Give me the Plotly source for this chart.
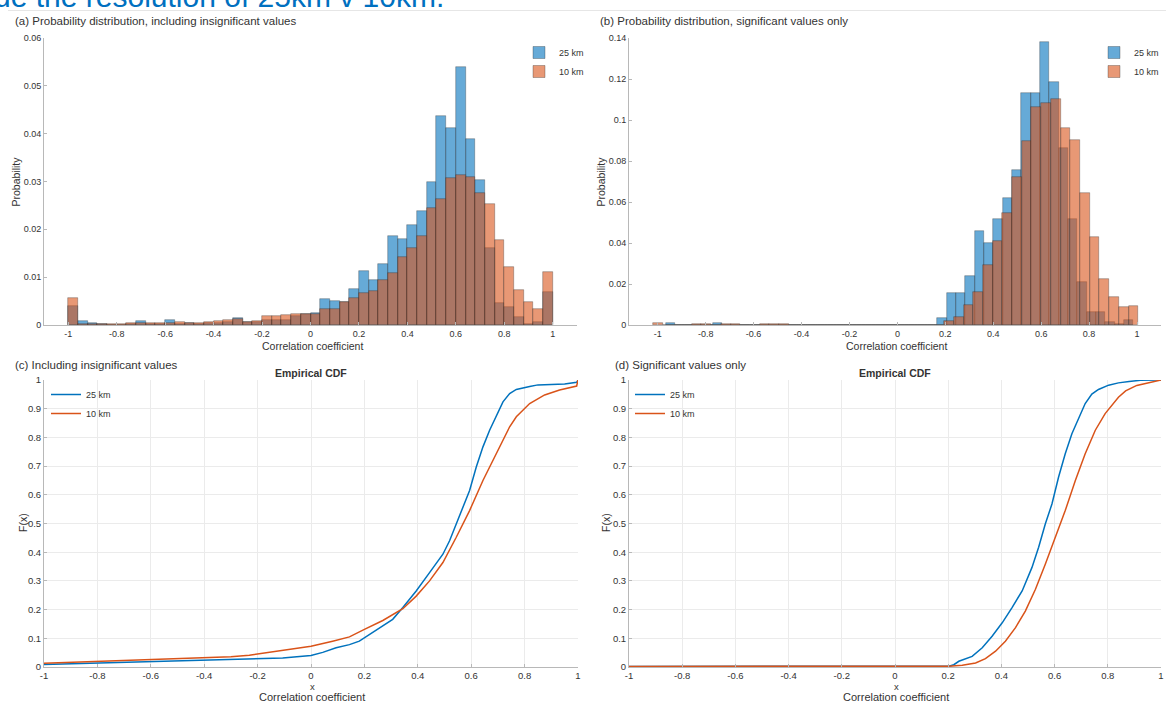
import numpy as np
import plotly.graph_objects as go

# ---------------- data ----------------
# (a) histogram, including insignificant values: 50 bins of width 0.04 starting at -1
bin_start_a = -1.0
bin_width_a = 0.04
hist_a_25km = [0.0039, 0.0008, 0.0005, 0.0002, 0.0001, 0.0001, 0.0003, 0.0008, 0.0003, 0.0003,
               0.0011, 0.0003, 0.0004, 0.0003, 0.0005, 0.0005, 0.0006, 0.0014, 0.0006, 0.0006,
               0.0010, 0.0010, 0.0010, 0.0019, 0.0022, 0.0026, 0.0054, 0.0050, 0.0048, 0.0075,
               0.0113, 0.0094, 0.0127, 0.0186, 0.0180, 0.0210, 0.0238, 0.0300, 0.0436, 0.0411,
               0.0539, 0.0388, 0.0303, 0.0162, 0.0047, 0.0038, 0.0017, 0.0003, 0.0006, 0.0068]
hist_a_10km = [0.0056, 0.0003, 0.0003, 0.0003, 0.0002, 0.0002, 0.0005, 0.0005, 0.0004, 0.0004,
               0.0005, 0.0006, 0.0004, 0.0004, 0.0006, 0.0008, 0.0011, 0.0012, 0.0007, 0.0008,
               0.0018, 0.0019, 0.0021, 0.0024, 0.0023, 0.0023, 0.0033, 0.0033, 0.0049, 0.0056,
               0.0066, 0.0071, 0.0095, 0.0109, 0.0143, 0.0162, 0.0187, 0.0245, 0.0263, 0.0307,
               0.0313, 0.0309, 0.0275, 0.0252, 0.0178, 0.0122, 0.0073, 0.0049, 0.0033, 0.0111]

# (b) histogram, significant values only (each series has its own automatic bins)
bin_start_b_25km = -0.965
bin_width_b_25km = 0.039
hist_b_25km = [0.0008, 0, 0, 0, 0, 0.0008, 0, 0, 0, 0,
               0, 0, 0, 0, 0, 0, 0, 0, 0, 0,
               0, 0, 0, 0, 0, 0, 0, 0, 0, 0.0033,
               0.0158, 0.0158, 0.0241, 0.0460, 0.0400, 0.0519, 0.0621, 0.0756, 0.1132, 0.1132,
               0.1380, 0.1184, 0.0863, 0.0517, 0.0208, 0.0065, 0.0065, 0.0016, 0.0005, 0.0026]
bin_start_b_10km = -1.02
bin_width_b_10km = 0.0405
hist_b_10km = [0.0011, 0, 0, 0, 0.0004, 0.0004, 0, 0.0004, 0.0004, 0,
               0, 0.0005, 0.0004, 0.0003, 0, 0, 0, 0, 0, 0,
               0, 0, 0, 0, 0, 0, 0, 0, 0, 0,
               0.0020, 0.0037, 0.0099, 0.0163, 0.0293, 0.0408, 0.0546, 0.0724, 0.0896, 0.1062,
               0.1083, 0.1102, 0.0961, 0.0902, 0.0644, 0.0428, 0.0224, 0.0135, 0.0089, 0.0091]

# (c) empirical CDF, including insignificant values
cdf_c_25km_x = [-1.0, -0.8, -0.6, -0.4, -0.3, -0.231, -0.106, 0.0, 0.044, 0.094, 0.144, 0.181,
                0.219, 0.269, 0.306, 0.344, 0.394, 0.444, 0.494, 0.519, 0.544, 0.569, 0.594,
                0.619, 0.644, 0.669, 0.694, 0.719, 0.744, 0.769, 0.819, 0.85, 0.9, 0.95, 0.995, 1.0]
cdf_c_25km_y = [0.009, 0.014, 0.019, 0.023, 0.024, 0.026, 0.031, 0.040, 0.051, 0.067, 0.078, 0.090,
                0.113, 0.142, 0.166, 0.207, 0.265, 0.329, 0.393, 0.440, 0.498, 0.557, 0.615,
                0.697, 0.767, 0.825, 0.872, 0.924, 0.953, 0.967, 0.977, 0.983, 0.984, 0.986, 0.992, 1.0]
cdf_c_10km_x = [-1.0, -0.8, -0.6, -0.4, -0.3, -0.231, -0.106, 0.0, 0.081, 0.144, 0.2, 0.269, 0.344,
                0.394, 0.444, 0.494, 0.544, 0.594, 0.644, 0.694, 0.744, 0.769, 0.819, 0.875,
                0.931, 0.995, 1.0]
cdf_c_10km_y = [0.013, 0.019, 0.025, 0.031, 0.036, 0.041, 0.057, 0.072, 0.090, 0.105, 0.131, 0.162,
                0.203, 0.247, 0.300, 0.364, 0.452, 0.545, 0.650, 0.743, 0.837, 0.872, 0.918,
                0.948, 0.965, 0.979, 1.0]

# (d) empirical CDF, significant values only
cdf_d_25km_x = [-1.0, 0.203, 0.221, 0.24, 0.29, 0.328, 0.365, 0.403, 0.44, 0.478, 0.515, 0.54,
                0.565, 0.59, 0.615, 0.64, 0.665, 0.69, 0.715, 0.74, 0.765, 0.803, 0.84, 0.88,
                0.923, 0.979, 1.0]
cdf_d_25km_y = [0.002, 0.003, 0.008, 0.02, 0.037, 0.067, 0.107, 0.154, 0.207, 0.265, 0.347, 0.417,
                0.498, 0.568, 0.662, 0.743, 0.813, 0.866, 0.918, 0.951, 0.967, 0.982, 0.990, 0.995,
                0.999, 1.0, 1.0]
cdf_d_10km_x = [-1.0, 0.203, 0.253, 0.303, 0.34, 0.378, 0.415, 0.453, 0.49, 0.528, 0.565, 0.603,
                0.64, 0.678, 0.715, 0.753, 0.79, 0.84, 0.867, 0.909, 0.951, 1.0]
cdf_d_10km_y = [0.002, 0.003, 0.006, 0.014, 0.029, 0.055, 0.090, 0.137, 0.195, 0.271, 0.358, 0.452,
                0.545, 0.650, 0.743, 0.825, 0.883, 0.94, 0.962, 0.981, 0.991, 1.0]

series_names = ["25 km", "10 km"]

hist_xticks = [-1, -0.8, -0.6, -0.4, -0.2, 0, 0.2, 0.4, 0.6, 0.8, 1]
hist_xticktext = ["-1", "-0.8", "-0.6", "-0.4", "-0.2", "0", "0.2", "0.4", "0.6", "0.8", "1"]
hist_a_yticks = [0, 0.01, 0.02, 0.03, 0.04, 0.05, 0.06]
hist_a_yticktext = ["0", "0.01", "0.02", "0.03", "0.04", "0.05", "0.06"]
hist_b_yticks = [0, 0.02, 0.04, 0.06, 0.08, 0.1, 0.12, 0.14]
hist_b_yticktext = ["0", "0.02", "0.04", "0.06", "0.08", "0.1", "0.12", "0.14"]
cdf_yticks = [0, 0.1, 0.2, 0.3, 0.4, 0.5, 0.6, 0.7, 0.8, 0.9, 1]
cdf_yticktext = ["0", "0.1", "0.2", "0.3", "0.4", "0.5", "0.6", "0.7", "0.8", "0.9", "1"]

# ---------------- styling ----------------
W, H = 1166, 702
FONT = "Liberation Sans, Arial, Helvetica, sans-serif"
TXT = "#333333"
AX = "#b8b8b8"
GRID = "#ebebeb"
BLUE_FILL = "rgba(0,114,189,0.6)"
ORANGE_FILL = "rgba(217,83,25,0.6)"
EDGE = "rgba(30,30,30,0.5)"
BLUE_LINE = "#0072BD"
ORANGE_LINE = "#D95319"


def px(x):
    return x / W


def py(y):
    return 1 - y / H


def edges(start, width, n):
    return start + width * np.arange(n)


fig = go.Figure()

# (a)
for vals, start, width, fill, name in [
    (hist_a_25km, bin_start_a, bin_width_a, BLUE_FILL, series_names[0]),
    (hist_a_10km, bin_start_a, bin_width_a, ORANGE_FILL, series_names[1]),
]:
    fig.add_trace(go.Bar(x=edges(start, width, len(vals)), y=vals, width=width, offset=0,
                         marker=dict(color=fill, line=dict(color=EDGE, width=0.6)),
                         name=name, xaxis="x", yaxis="y", legend="legend"))
# (b)
for vals, start, width, fill, name in [
    (hist_b_25km, bin_start_b_25km, bin_width_b_25km, BLUE_FILL, series_names[0]),
    (hist_b_10km, bin_start_b_10km, bin_width_b_10km, ORANGE_FILL, series_names[1]),
]:
    fig.add_trace(go.Bar(x=edges(start, width, len(vals)), y=vals, width=width, offset=0,
                         marker=dict(color=fill, line=dict(color=EDGE, width=0.6)),
                         name=name, xaxis="x2", yaxis="y2", legend="legend2"))
# (c)
fig.add_trace(go.Scatter(x=cdf_c_25km_x, y=cdf_c_25km_y, mode="lines", name=series_names[0],
                         line=dict(color=BLUE_LINE, width=1.5), xaxis="x3", yaxis="y3", legend="legend3"))
fig.add_trace(go.Scatter(x=cdf_c_10km_x, y=cdf_c_10km_y, mode="lines", name=series_names[1],
                         line=dict(color=ORANGE_LINE, width=1.5), xaxis="x3", yaxis="y3", legend="legend3"))
# (d)
fig.add_trace(go.Scatter(x=cdf_d_25km_x, y=cdf_d_25km_y, mode="lines", name=series_names[0],
                         line=dict(color=BLUE_LINE, width=1.5), xaxis="x4", yaxis="y4", legend="legend4"))
fig.add_trace(go.Scatter(x=cdf_d_10km_x, y=cdf_d_10km_y, mode="lines", name=series_names[1],
                         line=dict(color=ORANGE_LINE, width=1.5), xaxis="x4", yaxis="y4", legend="legend4"))


def axis(domain, rng, tickvals, ticktext, anchor, grid=False, size=9):
    return dict(domain=domain, range=rng, tickmode="array", tickvals=tickvals, ticktext=ticktext,
                anchor=anchor, showline=True, linecolor=AX, linewidth=1, mirror=False,
                ticks="inside", ticklen=3, tickcolor=AX, showgrid=grid, gridcolor=GRID,
                zeroline=False, tickfont=dict(family=FONT, size=size, color=TXT),
                fixedrange=True, automargin=False)


top_y = [py(325), py(38)]
bot_y = [py(667), py(380)]
left_x_h = [px(44), px(577)]
right_x_h = [px(629), px(1161)]
left_x_c = [px(44), px(578)]
right_x_c = [px(629), px(1161)]

cdf_xticks = hist_xticks
cdf_xticktext = hist_xticktext

layout = dict(
    width=W, height=H, margin=dict(l=0, r=0, t=0, b=0),
    paper_bgcolor="white", plot_bgcolor="white",
    barmode="overlay", bargap=0,
    font=dict(family=FONT, color=TXT),
    xaxis=axis(left_x_h, [-1.1, 1.1], hist_xticks, hist_xticktext, "y"),
    yaxis=axis(top_y, [0, 0.06], hist_a_yticks, hist_a_yticktext, "x"),
    xaxis2=axis(right_x_h, [-1.12, 1.1], hist_xticks, hist_xticktext, "y2"),
    yaxis2=axis(top_y, [0, 0.14], hist_b_yticks, hist_b_yticktext, "x2"),
    xaxis3=axis(left_x_c, [-1, 1], cdf_xticks, cdf_xticktext, "y3", grid=True, size=9.5),
    yaxis3=axis(bot_y, [0, 1], cdf_yticks, cdf_yticktext, "x3", grid=True, size=9.5),
    xaxis4=axis(right_x_c, [-1, 1], cdf_xticks, cdf_xticktext, "y4", grid=True, size=9.5),
    yaxis4=axis(bot_y, [0, 1], cdf_yticks, cdf_yticktext, "x4", grid=True, size=9.5),
    showlegend=True,
)

leg_common = dict(xanchor="left", yanchor="top", bgcolor="rgba(255,255,255,0)", borderwidth=0,
                  font=dict(family=FONT, size=9, color=TXT), itemwidth=30, tracegroupgap=0)
layout["legend"] = dict(x=px(519), y=py(38), **leg_common)
layout["legend2"] = dict(x=px(1094), y=py(38), **leg_common)
layout["legend3"] = dict(x=px(46), y=py(380), **leg_common)
layout["legend4"] = dict(x=px(630), y=py(380), **leg_common)

fig.update_layout(**layout)


def ann(text, x, y, size=11, xanchor="left", yanchor="middle", angle=0, color=TXT, bold=False):
    if bold:
        text = "<b>" + text + "</b>"
    fig.add_annotation(text=text, x=x, y=y, xref="paper", yref="paper", xanchor=xanchor,
                       yanchor=yanchor, showarrow=False, textangle=angle,
                       font=dict(family=FONT, size=size, color=color))


# clipped page heading (only its lower part shows at the top edge)
ann("Results include the resolution of 25km v 10km.", px(446), py(15.5), size=30,
    xanchor="right", yanchor="bottom", color="#0070C0")

# panel titles
ann("(a) Probability distribution, including insignificant values", px(13), py(20.5), size=11.5)
ann("(b) Probability distribution, significant values only", px(598), py(20.5), size=11.5)
ann("(c) Including insignificant values", px(13), py(365), size=11.5)
ann("(d) Significant values only", px(613), py(365), size=11.5)
ann("Empirical CDF", px(311), py(373), size=10.5, xanchor="center", bold=True)
ann("Empirical CDF", px(895), py(373), size=10.5, xanchor="center", bold=True)

# axis labels
ann("Probability", px(15.5), py(182), size=10.5, xanchor="center", angle=-90)
ann("Probability", px(600.5), py(182), size=10.5, xanchor="center", angle=-90)
ann("Correlation coefficient", px(312), py(346), size=10.5, xanchor="center")
ann("Correlation coefficient", px(896), py(346), size=10.5, xanchor="center")
ann("F(x)", px(23), py(523), size=10.5, xanchor="center", angle=-90)
ann("F(x)", px(606), py(523), size=10.5, xanchor="center", angle=-90)
ann("x", px(312), py(686.5), size=9.5, xanchor="center")
ann("x", px(896), py(686.5), size=9.5, xanchor="center")
ann("Correlation coefficient", px(312), py(697), size=11, xanchor="center")
ann("Correlation coefficient", px(896), py(697), size=11, xanchor="center")

# thin rule under the heading
fig.add_shape(type="line", xref="paper", yref="paper", x0=px(8), x1=1, y0=py(10.5), y1=py(10.5),
              line=dict(color="#e6e6e6", width=1))

fig.write_html("out.html", config={"displayModeBar": False},
               post_script="document.body.style.margin='0';document.body.style.overflow='hidden';")
